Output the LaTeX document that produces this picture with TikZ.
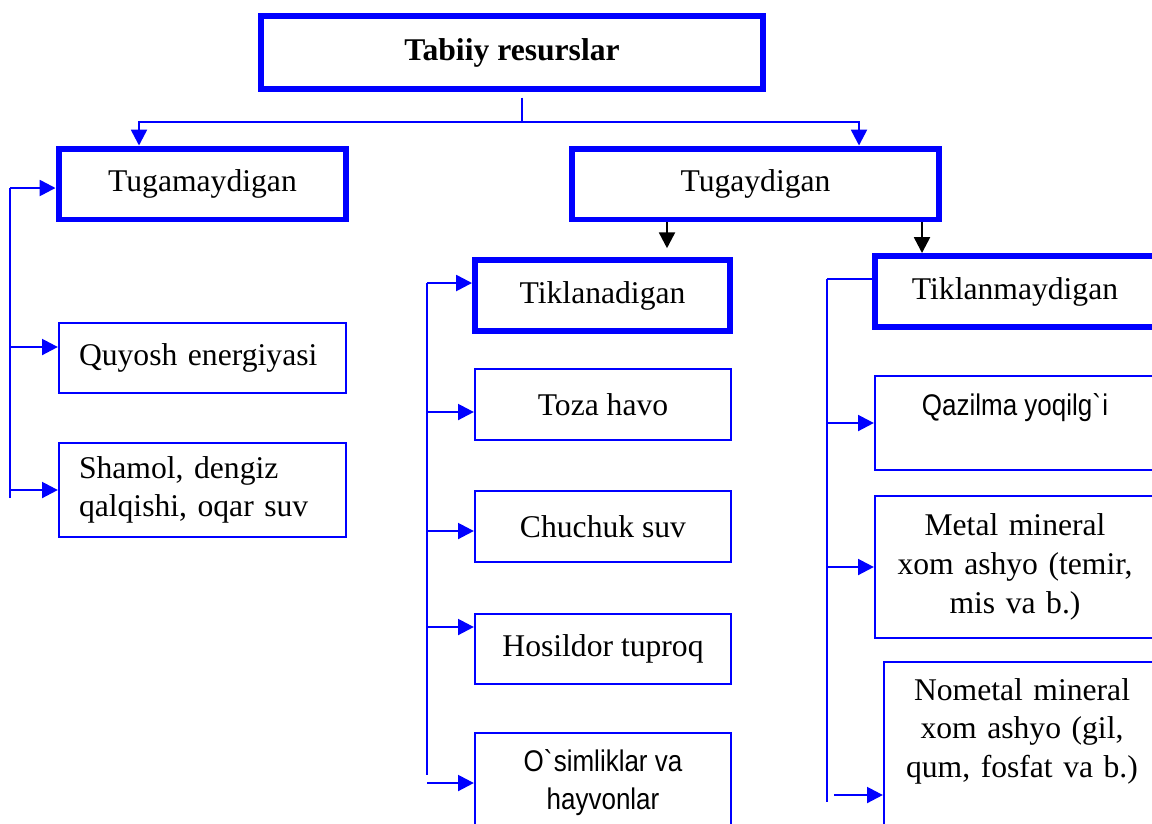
\documentclass[tikz,border=0pt]{standalone}
\usepackage{fontspec}
\setmainfont{Liberation Serif}
\newfontfamily\arialf[FakeStretch=0.87]{Liberation Sans}
\usetikzlibrary{arrows.meta}

\begin{document}
\begin{tikzpicture}[
    x=0.02cm, y=-0.02cm,
    every node/.style={font=\fontsize{18}{22}\selectfont},
    head/.style={
        rectangle, draw=blue, line width=3.4pt,
        minimum height=1.42cm,
    },
    leaf/.style={
        rectangle, draw=blue, line width=1.3pt,
    },
    sans/.style={font=\arialf\fontsize{17}{22}\selectfont},
    bus/.style={blue, line width=1.2pt},
    arr/.style={-{Triangle[length=9pt, width=9pt]}, line width=1.4pt, color=blue},
    darr/.style={-{Triangle[length=9pt, width=9pt]}, line width=1.4pt, color=black},
]
\useasboundingbox (0,0) rectangle (1152,823);
\clip (0,0) rectangle (1152,823);

% ================================================ top
\node[head, line width=3.8pt, minimum width=10.04cm, minimum height=1.46cm,
    font=\fontsize{18}{22}\selectfont\bfseries] (res) at (512,52.5) {Tabiiy resurslar};
\node[head, minimum width=5.76cm] (tugam) at (202.5,184) {Tugamaydigan};
\node[head, minimum width=7.36cm] (tugay) at (755.5,184) {Tugaydigan};

\coordinate (split) at (522,122);
\coordinate (lt) at (139,122);
\coordinate (rt) at (859,122);
\draw[bus, shorten <=3pt] (res.south -| split) -- (split);
\draw[arr] (split) -- (lt) -- (lt |- tugam.north);
\draw[arr] (split) -- (rt) -- (rt |- tugay.north);

% ================================================ left: tugamaydigan
\node[leaf, minimum width=5.74cm, minimum height=1.40cm, text width=4.94cm,
    inner xsep=0.4cm, align=left] (quyosh) at (202.5,358) {Quyosh energiyasi};
\node[leaf, minimum width=5.74cm, minimum height=1.88cm, text width=4.94cm,
    inner xsep=0.4cm, align=left] (shamol) at (202.5,490) {Shamol, dengiz\\ qalqishi, oqar suv};

\coordinate (lbtop) at (10,188);
\coordinate (lbend) at (10,498);
\draw[bus] (lbtop) -- (lbend);
\draw[arr] (lbtop) -- (lbtop -| tugam.west);
\foreach \n/\y in {quyosh/347, shamol/490}{
    \coordinate (l-\n) at (10,\y);
    \draw[arr] (l-\n) -- (l-\n -| \n.west);
}

% ================================================ middle: tiklanadigan
\node[head, minimum width=5.1cm] (tiklan) at (602.5,295.5) {Tiklanadigan};
\node[leaf, minimum width=5.12cm, minimum height=1.42cm] (toza) at (603,404.5) {Toza havo};
\node[leaf, minimum width=5.12cm, minimum height=1.42cm] (chuch) at (603,526.5) {Chuchuk suv};
\node[leaf, minimum width=5.12cm, minimum height=1.40cm] (hosil) at (603,649) {Hosildor tuproq};
\node[leaf, sans, minimum width=5.12cm, minimum height=1.98cm, align=center]
    (osim) at (603,782.5) {O\textasciigrave simliklar va\\ hayvonlar};

\coordinate (mbtop) at (427,283);
\coordinate (mbend) at (427,775);
\draw[bus] (mbtop) -- (mbend);
\foreach \n/\y in {tiklan/283, toza/412, chuch/531, hosil/627, osim/783}{
    \coordinate (m-\n) at (427,\y);
    \draw[arr] (m-\n) -- (m-\n -| \n.west);
}

% ================================================ right: tiklanmaydigan
\node[head, minimum width=5.6cm] (tiklanm) at (1015,291.5) {Tiklanmaydigan};
\node[leaf, sans, minimum width=5.6cm, minimum height=1.88cm,
    text height=12pt, text depth=20pt] (qazil) at (1015,423) {Qazilma yoqilg\textasciigrave i};
\node[leaf, minimum width=5.6cm, minimum height=2.84cm, text width=5.2cm, align=center]
    (metal) at (1015,567) {Metal mineral\\ xom ashyo (temir,\\ mis va b.)};
\node[leaf, minimum width=5.52cm, minimum height=3.36cm, text width=5.2cm, align=center,
    text height=13pt, text depth=65pt]
    (nomet) at (1022,746) {Nometal mineral\\ xom ashyo (gil,\\ qum, fosfat va b.)};

\coordinate (rbtop) at (827,279);
\coordinate (rbend) at (827,802);
\draw[bus] (rbtop) -- (rbend);
\draw[bus] (rbtop) -- (rbtop -| tiklanm.west);
\foreach \n/\x/\y in {qazil/827/423, metal/827/567, nomet/834/795}{
    \coordinate (r-\n) at (\x,\y);
    \draw[arr] (r-\n) -- (r-\n -| \n.west);
}

% tugaydigan splits in two
\coordinate (k1) at (667,0);
\coordinate (k2) at (922,0);
\draw[darr, shorten >=5pt] (tugay.south -| k1) -- (tiklan.north -| k1);
\draw[darr] (tugay.south -| k2) -- (tiklanm.north -| k2);

\end{tikzpicture}
\end{document}
